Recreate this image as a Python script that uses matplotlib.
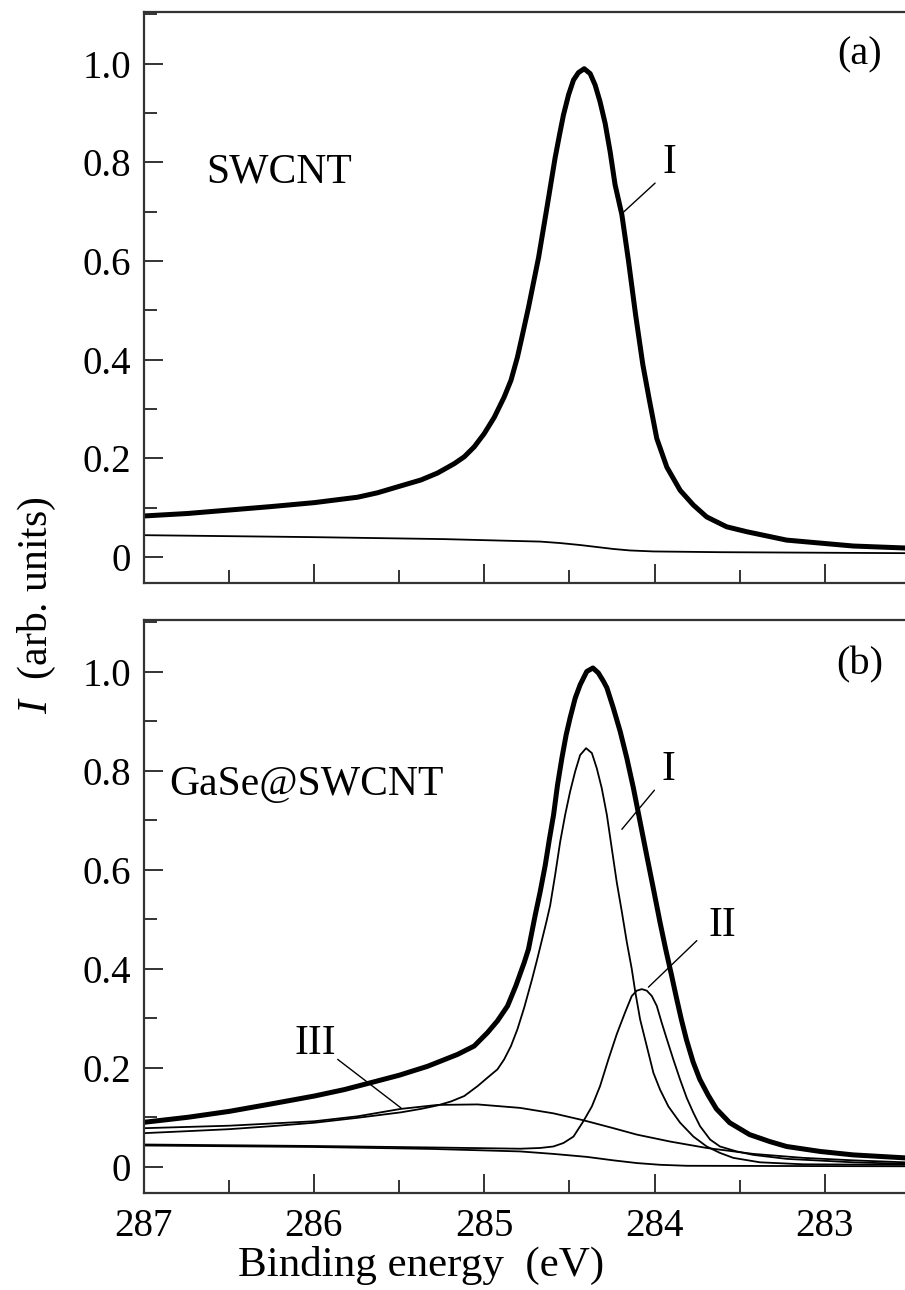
import matplotlib
matplotlib.use('Agg')
import matplotlib.pyplot as plt
from matplotlib.ticker import MultipleLocator

plt.rcParams['font.family'] = ['Liberation Serif', 'DejaVu Serif']
plt.rcParams['mathtext.fontset'] = 'custom'
plt.rcParams['mathtext.rm'] = 'Liberation Serif'
plt.rcParams['mathtext.it'] = 'Liberation Serif:italic'

# ---- panel (a): SWCNT, C 1s ----
a_total_E = [286.994, 286.74, 286.496, 286.251, 285.997, 285.743, 285.626, 285.499, 285.371,
             285.274, 285.176, 285.117, 285.059, 285.0, 284.941, 284.883, 284.843, 284.805,
             284.779, 284.740, 284.681, 284.632, 284.584, 284.558, 284.535, 284.505, 284.476,
             284.447, 284.413, 284.378, 284.349, 284.320, 284.290, 284.261, 284.232, 284.192,
             284.153, 284.111, 284.069, 284.030, 283.987, 283.928, 283.850, 283.772, 283.694,
             283.577, 283.459, 283.225, 282.834, 282.53]
a_total_I = [0.083, 0.088, 0.095, 0.102, 0.110, 0.121, 0.130, 0.143, 0.156,
             0.170, 0.189, 0.203, 0.223, 0.250, 0.283, 0.324, 0.358, 0.405,
             0.445, 0.506, 0.607, 0.708, 0.809, 0.856, 0.896, 0.937, 0.967,
             0.982, 0.990, 0.980, 0.957, 0.923, 0.879, 0.822, 0.755, 0.694,
             0.600, 0.490, 0.390, 0.317, 0.240, 0.182, 0.135, 0.105, 0.081,
             0.061, 0.051, 0.034, 0.022, 0.018]
a_bg_E = [287.0, 286.0, 285.235, 284.789, 284.672, 284.554, 284.437, 284.339, 284.242,
          284.144, 284.007, 283.616, 282.53]
a_bg_I = [0.044, 0.040, 0.036, 0.032, 0.031, 0.028, 0.024, 0.020, 0.016,
          0.013, 0.011, 0.0095, 0.0075]

# ---- panel (b): GaSe@SWCNT ----
b_total_E = [286.994, 286.740, 286.496, 286.251, 285.997, 285.821, 285.665, 285.499, 285.333,
             285.157, 285.059, 284.981, 284.922, 284.863, 284.814, 284.765, 284.740, 284.701,
             284.672, 284.642, 284.617, 284.593, 284.570, 284.544, 284.519, 284.496, 284.466,
             284.437, 284.398, 284.362, 284.330, 284.300, 284.280, 284.242, 284.202, 284.163,
             284.124, 284.085, 284.046, 284.007, 283.968, 283.935, 283.901, 283.872, 283.843,
             283.813, 283.774, 283.735, 283.686, 283.637, 283.559, 283.442, 283.324, 283.225,
             283.029, 282.834, 282.53]
b_total_I = [0.090, 0.100, 0.112, 0.127, 0.143, 0.156, 0.170, 0.185, 0.203,
             0.227, 0.244, 0.271, 0.295, 0.325, 0.366, 0.413, 0.440, 0.508,
             0.555, 0.609, 0.663, 0.711, 0.771, 0.826, 0.873, 0.907, 0.947,
             0.974, 1.001, 1.008, 0.998, 0.981, 0.968, 0.927, 0.880, 0.826,
             0.765, 0.697, 0.629, 0.562, 0.494, 0.440, 0.388, 0.342, 0.298,
             0.257, 0.212, 0.177, 0.145, 0.117, 0.089, 0.065, 0.051, 0.041,
             0.031, 0.024, 0.018]
# component I
b_c1_E = [286.994, 286.740, 286.496, 286.251, 285.997, 285.743, 285.489, 285.371, 285.274,
          285.195, 285.117, 285.039, 284.981, 284.922, 284.883, 284.843, 284.805, 284.765,
          284.720, 284.690, 284.660, 284.635, 284.613, 284.584, 284.554, 284.525, 284.496,
          284.466, 284.437, 284.402, 284.368, 284.339, 284.310, 284.280, 284.251, 284.222,
          284.192, 284.163, 284.134, 284.114, 284.085, 284.046, 284.007, 283.968, 283.919,
          283.850, 283.772, 283.694, 283.616, 283.538, 283.381, 283.127, 282.53]
b_c1_I = [0.068, 0.072, 0.076, 0.082, 0.089, 0.099, 0.110, 0.117, 0.124,
          0.132, 0.143, 0.163, 0.180, 0.197, 0.217, 0.244, 0.278, 0.322,
          0.378, 0.418, 0.460, 0.495, 0.528, 0.589, 0.657, 0.711, 0.758,
          0.799, 0.832, 0.846, 0.836, 0.805, 0.765, 0.711, 0.643, 0.575,
          0.515, 0.454, 0.400, 0.355, 0.298, 0.244, 0.190, 0.156, 0.122,
          0.089, 0.061, 0.041, 0.028, 0.018, 0.009, 0.005, 0.004]
# component II
b_c2_E = [287.0, 286.0, 285.3, 284.789, 284.672, 284.594, 284.535, 284.476, 284.418,
          284.368, 284.320, 284.271, 284.222, 284.173, 284.134, 284.104, 284.075, 284.046,
          284.016, 283.987, 283.958, 283.928, 283.890, 283.850, 283.811, 283.772, 283.733,
          283.674, 283.616, 283.518, 283.420, 283.225, 282.834, 282.53]
b_c2_I = [0.045, 0.042, 0.039, 0.0365, 0.038, 0.041, 0.048, 0.061, 0.092,
          0.122, 0.163, 0.217, 0.268, 0.312, 0.345, 0.356, 0.359, 0.356,
          0.345, 0.325, 0.291, 0.258, 0.217, 0.176, 0.139, 0.109, 0.082,
          0.055, 0.041, 0.031, 0.024, 0.016, 0.009, 0.006]
# component III
b_c3_E = [286.994, 286.496, 285.997, 285.743, 285.489, 285.274, 285.039, 284.789, 284.594,
          284.418, 284.242, 284.104, 283.909, 283.694, 283.420, 283.127, 282.834, 282.53]
b_c3_I = [0.078, 0.083, 0.092, 0.102, 0.117, 0.125, 0.126, 0.119, 0.108,
          0.094, 0.078, 0.065, 0.051, 0.038, 0.026, 0.018, 0.013, 0.009]
# background
b_bg_E = [287.0, 286.0, 285.3, 284.789, 284.594, 284.398, 284.242, 284.104, 283.968,
          283.811, 282.53]
b_bg_I = [0.043, 0.040, 0.036, 0.031, 0.026, 0.020, 0.013, 0.0075, 0.004,
          0.002, 0.001]

x_ticks = [287, 286, 285, 284, 283]
y_ticks = [0, 0.2, 0.4, 0.6, 0.8, 1.0]
y_ticklabels = ['0', '0.2', '0.4', '0.6', '0.8', '1.0']

W, H = 905, 1290
fig = plt.figure(figsize=(W / 100, H / 100), dpi=100)
ax1 = fig.add_axes([143.5 / W, 1 - 583 / H, (W - 143.5) / W, 571 / H])
ax2 = fig.add_axes([143.5 / W, 1 - 1193 / H, (W - 143.5) / W, 573 / H])

spine_col = '#333333'
for ax in (ax1, ax2):
    ax.set_xlim(287, 282.53)
    ax.set_ylim(-0.053, 1.105)
    ax.spines['right'].set_visible(False)
    for s in ('left', 'top', 'bottom'):
        ax.spines[s].set_linewidth(1.6)
        ax.spines[s].set_color(spine_col)
    ax.set_xticks(x_ticks)
    ax.xaxis.set_minor_locator(MultipleLocator(0.5))
    ax.set_yticks(y_ticks)
    ax.set_yticklabels(y_ticklabels)
    ax.yaxis.set_minor_locator(MultipleLocator(0.1))
    ax.tick_params(which='both', direction='in', top=False, right=False,
                   color=spine_col, width=1.4, labelsize=28, pad=9)
    ax.tick_params(axis='x', which='both', pad=11)
    ax.tick_params(which='major', length=13.5)
    ax.tick_params(which='minor', length=9.5)

ax1.set_xticklabels([])
ax2.set_xticklabels([str(t) for t in x_ticks])

thick, thin = 3.6, 1.3
line_kw = dict(color='black', solid_joinstyle='round', solid_capstyle='round')
ax1.plot(a_total_E, a_total_I, lw=thick, **line_kw)
ax1.plot(a_bg_E, a_bg_I, lw=thin, **line_kw)

ax2.plot(b_total_E, b_total_I, lw=thick, **line_kw)
for e, i in [(b_c1_E, b_c1_I), (b_c2_E, b_c2_I), (b_c3_E, b_c3_I), (b_bg_E, b_bg_I)]:
    ax2.plot(e, i, lw=thin, **line_kw)

lead = dict(arrowstyle='-', color='black', lw=1.0, shrinkA=0, shrinkB=0)
lab = dict(fontsize=30, ha='center', va='center')
ax1.annotate('', xy=(284.186, 0.698), xytext=(283.997, 0.758), arrowprops=lead)
ax1.text(283.913, 0.80, 'I', **lab)
ax2.annotate('', xy=(284.192, 0.682), xytext=(284.001, 0.761), arrowprops=lead)
ax2.text(283.919, 0.802, 'I', **lab)
ax2.annotate('', xy=(284.036, 0.363), xytext=(283.752, 0.457), arrowprops=lead)
ax2.text(283.60, 0.487, 'II', **lab)
ax2.annotate('', xy=(285.489, 0.119), xytext=(285.860, 0.217), arrowprops=lead)
ax2.text(285.993, 0.249, 'III', **lab)

ax1.text(0.94, 0.925, '(a)', transform=ax1.transAxes, fontsize=29, ha='center', va='center')
ax2.text(0.94, 0.921, '(b)', transform=ax2.transAxes, fontsize=29, ha='center', va='center')
ax1.text(0.083, 0.72, 'SWCNT', transform=ax1.transAxes, fontsize=30, ha='left', va='center')
ax2.text(0.034, 0.712, 'GaSe@SWCNT', transform=ax2.transAxes, fontsize=30, ha='left', va='center')

fig.text(37 / W, 1 - 605 / H, r'$I$  (arb. units)', rotation=90, fontsize=30,
         ha='center', va='center')
fig.text(421 / W, 1 - 1265 / H, 'Binding energy  (eV)', fontsize=31,
         ha='center', va='center')

fig.savefig('out.png', dpi=100)
